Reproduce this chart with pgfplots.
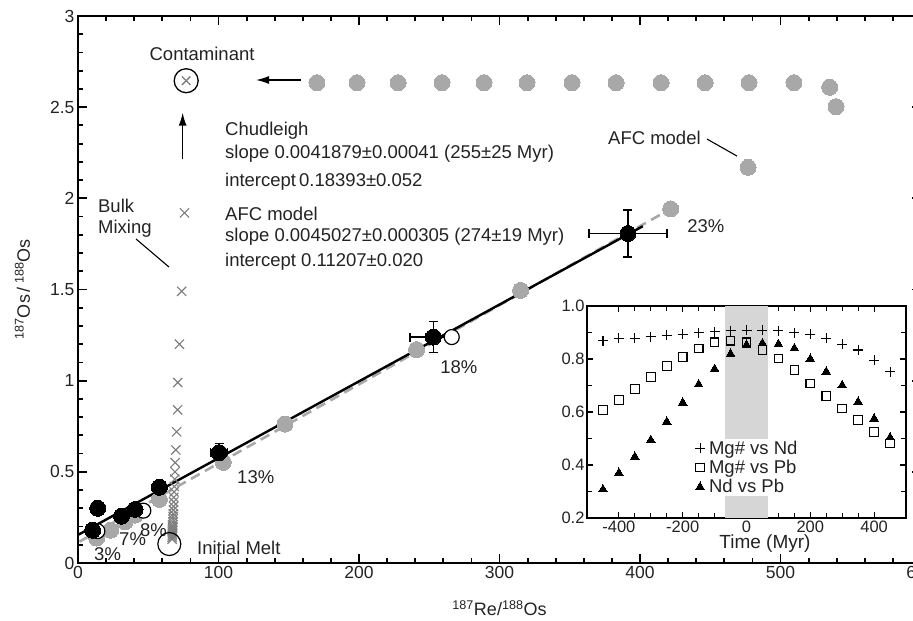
\documentclass[border=0pt]{standalone}
\usepackage{pgfplots}
\pgfplotsset{compat=1.18}
\usepackage{pgfplotstable}
\usepackage{fontspec}
\setmainfont{Liberation Sans}
\usetikzlibrary{arrows.meta}

\definecolor{dotgrey}{RGB}{168,168,168}
\definecolor{crossgrey}{RGB}{125,125,125}
\definecolor{txt}{RGB}{35,35,35}
\definecolor{bandgrey}{RGB}{214,214,214}

\pgfplotstableread{
x y
13.3 0.137
23.3 0.180
33.5 0.226
40.6 0.263
57.9 0.349
103.4 0.552
147.3 0.762
241.0 1.170
315.0 1.495
421.8 1.942
476.9 2.170
539.5 2.503
535.0 2.609
509.6 2.634
477.6 2.634
446.3 2.634
415.0 2.634
383.0 2.634
351.6 2.634
319.6 2.634
289.0 2.634
259.1 2.634
227.8 2.634
198.6 2.634
170.1 2.634
}\afcdata

\pgfplotstableread{
x y
10.4 0.180
14.0 0.300
31.0 0.257
40.6 0.294
57.9 0.415
}\blackdata

\pgfplotstableread{
x y ex ey
100.4 0.605 6.0 0.050
252.9 1.239 16.6 0.085
391.4 1.807 27.8 0.129
}\blackerr

\pgfplotstableread{
x y
13.8 0.175
46.5 0.287
266.0 1.239
}\opendata

\pgfplotstableread{
x y
75.8 1.92
73.8 1.49
72.2 1.20
71.0 0.99
70.9 0.84
70.2 0.72
69.6 0.62
69.2 0.55
69.0 0.50
68.8 0.46
68.6 0.42
68.4 0.39
68.2 0.36
68.1 0.335
68.0 0.31
67.9 0.29
67.8 0.27
67.7 0.255
67.6 0.24
67.5 0.225
67.4 0.21
67.3 0.20
67.3 0.19
67.2 0.18
67.2 0.17
67.1 0.16
67.1 0.15
67.0 0.14
67.0 0.13
}\mixdata

\pgfplotstableread{
t plus sq tri
-450 0.869 0.607 0.308
-400 0.878 0.645 0.370
-350 0.878 0.686 0.431
-300 0.884 0.733 0.494
-250 0.890 0.773 0.563
-200 0.893 0.808 0.635
-150 0.899 0.840 0.704
-100 0.903 0.863 0.762
-50 0.907 0.869 0.819
0 0.909 0.863 0.853
50 0.909 0.834 0.859
100 0.907 0.802 0.856
150 0.899 0.758 0.840
200 0.893 0.708 0.800
250 0.878 0.660 0.752
300 0.856 0.613 0.701
350 0.834 0.569 0.638
400 0.796 0.525 0.575
450 0.752 0.481 0.504
}\insetdata

\newcommand{\annfont}{\fontsize{18.5}{21}\selectfont}

\begin{document}
\begin{tikzpicture}
\begin{axis}[
  at={(0pt,0pt)}, anchor=south west,
  scale only axis, width=843pt, height=547pt,
  xmin=0, xmax=600, ymin=0, ymax=3,
  clip=false,
  axis line style={line width=1.8pt, black},
  xtick={0,100,200,300,400,500,600},
  xticklabels={0,100,200,300,400,500,600},
  ytick={0,0.5,1,1.5,2,2.5,3},
  yticklabels={0,0.5,1,1.5,2,2.5,3},
  minor x tick num=4, minor y tick num=4,
  tick align=inside, tick pos=both,
  major tick length=9pt, minor tick length=5pt,
  every tick/.style={line width=1.8pt, black},
  ticklabel style={font=\fontsize{17.5}{19}\selectfont, text=txt},
  xlabel={\textsuperscript{187}Re/\textsuperscript{188}Os},
  ylabel={\textsuperscript{187}Os\,/\,\textsuperscript{188}Os},
  label style={font=\fontsize{18}{20}\selectfont, text=txt},
  xlabel style={at={(axis description cs:0.5,-0.082)}, anchor=center},
  ylabel style={at={(axis description cs:-0.066,0.5)}, anchor=center, rotate=0},
]
% AFC model grey dots
\addplot[dotgrey, only marks, mark=*, mark size=8pt, mark options={fill=dotgrey, draw=dotgrey, line width=0pt}] table[x=x,y=y] {\afcdata};
% regression lines
\addplot[dotgrey, line width=2.6pt, dash pattern=on 10pt off 6pt] coordinates {(1,0.117) (421.8,1.942)};
\addplot[black, line width=2.4pt] coordinates {(0,0.154) (402,1.847)};
% bulk mixing crosses
\addplot[crossgrey, only marks, mark=x, mark size=6.5pt, mark options={draw=crossgrey, line width=1.1pt}] table[x=x,y=y] {\mixdata};
% open circles
\addplot[black, only marks, mark=*, mark size=7.5pt, mark options={fill=white, draw=black, line width=1.2pt}] table[x=x,y=y] {\opendata};
% black samples
\addplot[black, only marks, mark=*, mark size=8pt, mark options={fill=black, draw=black, line width=0pt}] table[x=x,y=y] {\blackdata};
\addplot[black, only marks, mark=*, mark size=8pt, mark options={fill=black, draw=black, line width=0pt},
  error bars/.cd, x dir=both, x explicit, y dir=both, y explicit,
  error bar style={line width=1.3pt, black},
  error mark options={rotate=90, black, mark size=4.5pt, line width=1.3pt}]
  table[x=x,y=y,x error=ex,y error=ey] {\blackerr};
% initial melt and contaminant
\addplot[black, only marks, mark=o, mark size=11.5pt, mark options={draw=black, line width=1.2pt}] coordinates {(65.0,0.104)};
\addplot[black, only marks, mark=o, mark size=12pt, mark options={draw=black, line width=1.3pt}] coordinates {(77.0,2.645)};
\addplot[crossgrey, only marks, mark=x, mark size=6pt, mark options={draw=crossgrey, line width=1.3pt}] coordinates {(77.0,2.645)};

% arrows
\draw[line width=1.4pt, -{Latex[length=13pt,width=8pt]}] (axis cs:158.7,2.649) -- (axis cs:126.7,2.649);
\draw[line width=1.4pt, -{Latex[length=13pt,width=8pt]}] (axis cs:74.5,2.214) -- (axis cs:74.5,2.470);
% leader lines
\draw[line width=1.1pt] (axis cs:41.3,1.777) -- (axis cs:64.8,1.623);
\draw[line width=1.1pt] (axis cs:447.7,2.325) -- (axis cs:469.0,2.232);

% annotations
\begin{scope}[every node/.style={font=\annfont, text=txt, inner sep=0pt}]
\node[anchor=center] at (axis cs:88.3,2.79) {Contaminant};
\node[anchor=west] at (axis cs:104.6,2.369) {Chudleigh};
\node[anchor=west] at (axis cs:104.6,2.243) {slope 0.0041879±0.00041 (255±25 Myr)};
\node[anchor=west] at (axis cs:104.6,2.090) {intercept\,0.18393±0.052};
\node[anchor=west] at (axis cs:104.6,1.914) {AFC model};
\node[anchor=west] at (axis cs:104.6,1.788) {slope 0.0045027±0.000305 (274±19 Myr)};
\node[anchor=west] at (axis cs:104.6,1.651) {intercept 0.11207±0.020};
\node[anchor=west] at (axis cs:14.2,1.958) {Bulk};
\node[anchor=west] at (axis cs:14.2,1.832) {Mixing};
\node[anchor=west] at (axis cs:377.2,2.331) {AFC model};
\node[anchor=west] at (axis cs:433.5,1.848) {23\%};
\node[anchor=west] at (axis cs:257.7,1.075) {18\%};
\node[anchor=west] at (axis cs:113.2,0.472) {13\%};
\node[anchor=west] at (axis cs:44.1,0.181) {8\%};
\node[anchor=west] at (axis cs:29.2,0.132) {7\%};
\node[anchor=west] at (axis cs:11.4,0.049) {3\%};
\node[anchor=west] at (axis cs:84.7,0.082) {Initial Melt};
\end{scope}
\end{axis}

% inset
\begin{axis}[
  at={(509pt,45pt)}, anchor=south west,
  scale only axis, width=319pt, height=212pt,
  xmin=-500, xmax=500, ymin=0.2, ymax=1.0,
  axis background/.style={fill=white},
  axis line style={line width=1.1pt, black},
  xtick={-400,-200,0,200,400},
  xticklabels={-400,-200,0,200,400},
  ytick={0.2,0.4,0.6,0.8,1.0},
  yticklabels={0.2,0.4,0.6,0.8,1.0},
  minor x tick num=3, minor y tick num=1,
  tick align=inside, tick pos=both,
  major tick length=6pt, minor tick length=5pt,
  every tick/.style={line width=1.1pt, black},
  ticklabel style={font=\fontsize{16.5}{18}\selectfont, text=txt},
  xticklabel style={yshift=1pt},
  yticklabel style={xshift=1pt},
  xlabel={Time (Myr)},
  xlabel style={font=\fontsize{19}{21}\selectfont, text=txt, at={(axis description cs:0.558,-0.123)}, anchor=center},
  legend style={at={(0.335,0.375)}, anchor=north west, fill=white, draw=none,
    font=\fontsize{18.5}{20}\selectfont, text=txt, inner sep=1pt, row sep=2.5pt,
    nodes={inner ysep=1pt, inner xsep=4pt}},
  legend cell align=left,
]
\fill[bandgrey] (axis cs:-67,0.2) rectangle (axis cs:67,1.0);
\addplot[black, only marks, mark=+, mark size=5pt, mark options={draw=black, line width=1.1pt}] table[x=t,y=plus] {\insetdata};
\addlegendentry{Mg\# vs Nd}
\addplot[black, only marks, mark=square, mark size=4.3pt, mark options={draw=black, line width=1.1pt, fill=white}] table[x=t,y=sq] {\insetdata};
\addlegendentry{Mg\# vs Pb}
\addplot[black, only marks, mark=triangle*, mark size=5pt, mark options={fill=black, draw=black, line width=0pt}] table[x=t,y=tri] {\insetdata};
\addlegendentry{Nd vs Pb}
\end{axis}

\pgfresetboundingbox
\useasboundingbox (-78pt,-58pt) rectangle (835pt,563pt);
\end{tikzpicture}
\end{document}
